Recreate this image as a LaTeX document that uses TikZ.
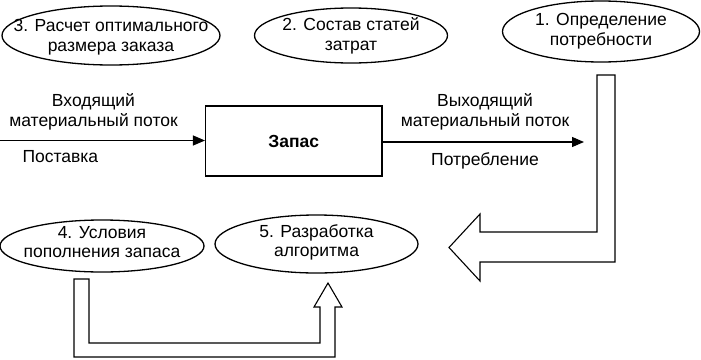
\documentclass[tikz,border=0pt]{standalone}
\usepackage{fontspec}
\setmainfont{Liberation Sans}
\usetikzlibrary{shapes.geometric,arrows.meta}
\begin{document}
\begin{tikzpicture}[x=1pt,y=-1pt,line width=1.1pt,
  oval/.style={draw,ellipse,line width=1.3pt,inner sep=0pt},
  lbl/.style={inner sep=0pt,align=center,font=\fontsize{17.5}{20}\selectfont},
  blockarrow/.style={draw,fill=white,line join=miter}]
\useasboundingbox (0,0) rectangle (701,359);
\node[oval,minimum width=218pt,minimum height=59pt,label={[lbl,yshift=-2pt]center:{3. Расчет оптимального\\размера заказа}}] (e3) at (111,35.5) {};
\node[oval,minimum width=193pt,minimum height=55pt,label={[lbl]center:{2. Состав статей\\затрат}}] (e2) at (351,35.5) {};
\node[oval,minimum width=197pt,minimum height=61pt,label={[lbl]center:{1. Определение\\потребности}}] (e1) at (601,31.5) {};
\node[oval,minimum width=204pt,minimum height=52pt,label={[lbl,font=\fontsize{17.5}{19}\selectfont,yshift=4pt]center:{4. Условия\\пополнения запаса}}] (e4) at (102,246) {};
\node[oval,minimum width=203pt,minimum height=58pt,label={[lbl,font=\fontsize{17.5}{19}\selectfont,yshift=2pt]center:{5. Разработка\\алгоритма}}] (e5) at (316.5,244) {};
\node[draw,minimum width=176.5pt,minimum height=70pt,font=\fontsize{17.5}{20}\selectfont\bfseries] (box) at (293.75,141) {Запас};
\coordinate (inL) at (0,140.5);
\coordinate (outR) at (584,142);
\draw[-{Triangle[length=12pt,width=10pt]}] (inL) -- (box.west |- inL);
\draw[-{Triangle[length=12pt,width=10pt]}] (box.east |- outR) -- (outR);
\node[lbl] (t1) at (93.5,112) {Входящий\\материальный поток};
\node[lbl,anchor=west] (t2) at (22,157) {Поставка};
\node[lbl] (t3) at (485,112) {Выходящий\\материальный поток};
\node[lbl] (t4) at (485,161) {Потребление};
\draw[blockarrow] (597,75) -- (615,75) -- (615,262) -- (480,262) -- (480,281) -- (449,247.5) -- (480,214) -- (480,232) -- (597,232) -- cycle;
\draw[blockarrow] (74,279) -- (89,279) -- (89,343) -- (320,343) -- (320,307) -- (314,307) -- (328,283) -- (342,307) -- (335,307) -- (335,357) -- (74,357) -- cycle;
\end{tikzpicture}
\end{document}
